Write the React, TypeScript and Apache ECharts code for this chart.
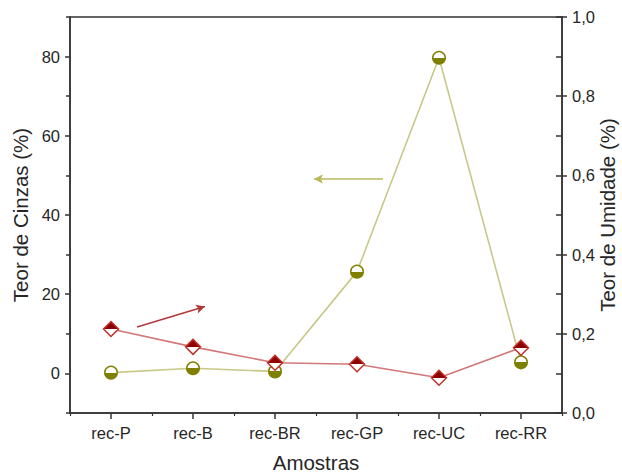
import React, { useEffect, useRef } from "react";
import * as echarts from "echarts";

const categories = ["rec-P", "rec-B", "rec-BR", "rec-GP", "rec-UC", "rec-RR"];
const cinzas = [0.2, 1.3, 0.5, 25.7, 79.7, 2.8];
const umidade = [0.212, 0.167, 0.127, 0.123, 0.089, 0.165];
const leftMajor = [0, 20, 40, 60, 80];
const leftMinor = [-10, 10, 30, 50, 70, 90];

const TEXT = "#262626";
const AXIS = "#333";
const OLIVE = "#7f7f00";
const OLIVE_LINE = "#c8c888";
const RED_DARK = "#8e0000";
const RED_EDGE = "#c0302a";
const RED_LINE = "#d27878";
const FONT = "'Liberation Sans', Arial, sans-serif";
const TICK_FS = 16.5;
const NAME_FS = 20.5;

const halfFill = (top: string, bottom: string) => ({
  type: "linear",
  x: 0,
  y: 0,
  x2: 0,
  y2: 1,
  colorStops: [
    { offset: 0, color: top },
    { offset: 0.5, color: top },
    { offset: 0.5, color: bottom },
    { offset: 1, color: bottom },
  ],
});

export default function App() {
  const ref = useRef<HTMLDivElement>(null);
  useEffect(() => {
    if (!ref.current) return;
    const chart = echarts.init(ref.current, undefined, { renderer: "svg" });
    const axisLine = { show: true, onZero: false, lineStyle: { color: AXIS, width: 1.5 } };
    chart.setOption({
      animation: false,
      textStyle: { fontFamily: FONT },
      grid: {
        left: 70,
        right: 60,
        top: 17,
        bottom: 62,
        containLabel: false,
        outerBoundsMode: "none",
        show: true,
        borderColor: AXIS,
        borderWidth: 1.5,
        backgroundColor: "transparent",
      },
      xAxis: [
        {
          type: "category",
          data: categories,
          boundaryGap: true,
          axisLine,
          axisTick: { show: true, alignWithLabel: true, length: 6, lineStyle: { color: AXIS, width: 1.5 } },
          axisLabel: { color: TEXT, fontSize: TICK_FS, margin: 11, fontFamily: FONT },
          name: "Amostras",
          nameLocation: "middle",
          nameGap: 39,
          nameMoveOverlap: false,
          nameTextStyle: { color: TEXT, fontSize: NAME_FS, fontFamily: FONT },
        },
        {
          type: "category",
          data: categories,
          position: "bottom",
          boundaryGap: true,
          axisLine: { show: false, onZero: false },
          axisTick: { show: true, length: 3, lineStyle: { color: AXIS, width: 1.2 } },
          axisLabel: { show: false },
        },
      ],
      yAxis: [
        {
          type: "value",
          position: "left",
          min: -10,
          max: 90,
          interval: 10,
          axisLine,
          splitLine: { show: false },
          axisTick: { show: true, length: 5, customValues: leftMajor, lineStyle: { color: AXIS, width: 1.5 } },
          axisLabel: {
            color: TEXT,
            fontSize: TICK_FS,
            margin: 10,
            fontFamily: FONT,
            customValues: leftMajor,
          },
          name: "Teor de Cinzas (%)",
          nameLocation: "middle",
          nameGap: 39.5,
          nameRotate: 90,
          nameMoveOverlap: false,
          nameTextStyle: { color: TEXT, fontSize: NAME_FS, fontFamily: FONT },
        },
        {
          type: "value",
          position: "right",
          min: 0,
          max: 1,
          interval: 0.2,
          axisLine,
          splitLine: { show: false },
          axisTick: { show: true, length: 5, lineStyle: { color: AXIS, width: 1.5 } },
          axisLabel: {
            color: TEXT,
            fontSize: TICK_FS,
            margin: 10,
            fontFamily: FONT,
            formatter: (v: number) => v.toFixed(1).replace(".", ","),
          },
          name: "Teor de Umidade (%)",
          nameLocation: "middle",
          nameGap: 35,
          nameRotate: 90,
          nameMoveOverlap: false,
          nameTextStyle: { color: TEXT, fontSize: NAME_FS, fontFamily: FONT },
        },
        {
          type: "value",
          position: "right",
          min: 0,
          max: 1,
          interval: 0.1,
          axisLine: { show: false, onZero: false },
          splitLine: { show: false },
          axisTick: { show: true, inside: true, length: 6, lineStyle: { color: AXIS, width: 1.5 } },
          axisLabel: { show: false },
        },
        {
          type: "value",
          position: "left",
          min: -10,
          max: 90,
          interval: 10,
          axisLine: { show: false, onZero: false },
          splitLine: { show: false },
          axisTick: { show: true, length: 4, customValues: leftMinor, lineStyle: { color: AXIS, width: 1.5 } },
          axisLabel: { show: false },
        },
      ],
      series: [
        {
          name: "Cinzas",
          type: "line",
          xAxisIndex: 0,
          yAxisIndex: 0,
          data: cinzas,
          symbol: "circle",
          symbolSize: 12.5,
          z: 2,
          lineStyle: { color: OLIVE_LINE, width: 1.6 },
          itemStyle: { color: halfFill("#ffffff", OLIVE), borderColor: OLIVE, borderWidth: 1.5 },
          markLine: {
            silent: true,
            symbol: ["none", "arrow"],
            symbolSize: [7, 9],
            label: { show: false },
            lineStyle: { color: "#b8b860", width: 1.6, type: "solid" },
            data: [[{ x: 383, y: 179 }, { x: 314, y: 179 }]],
          },
        },
        {
          name: "Umidade",
          type: "line",
          xAxisIndex: 0,
          yAxisIndex: 1,
          data: umidade,
          symbol: "diamond",
          symbolSize: 15,
          z: 3,
          lineStyle: { color: RED_LINE, width: 1.6 },
          itemStyle: { color: halfFill(RED_DARK, "#ffffff"), borderColor: RED_EDGE, borderWidth: 1.5 },
          markLine: {
            silent: true,
            symbol: ["none", "arrow"],
            symbolSize: [7, 9],
            label: { show: false },
            lineStyle: { color: "#b03838", width: 1.4, type: "solid" },
            data: [[{ x: 137, y: 327 }, { x: 205, y: 306.5 }]],
          },
        },
      ],
    });
    return () => chart.dispose();
  }, []);
  return (
    <div
      ref={ref}
      style={{ position: "fixed", left: 0, top: 0, width: 622, height: 475, background: "#fff" }}
    />
  );
}
